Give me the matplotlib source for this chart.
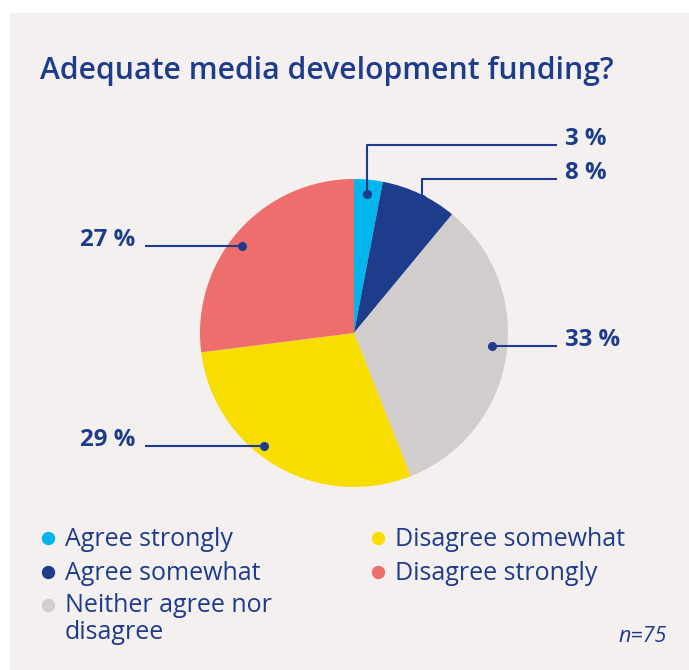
import numpy as np
import matplotlib.pyplot as plt
from matplotlib.patches import Rectangle

# survey answers, share of respondents in %
categories = ["Agree strongly", "Agree somewhat", "Neither agree nor\ndisagree",
              "Disagree somewhat", "Disagree strongly"]
shares = [3, 8, 33, 29, 27]
colors = ["#00b6ec", "#1e3c8c", "#d1cdcc", "#f7dd00", "#ee6e6d"]
n_resp = 75

W, H = 689, 670
navy = "#1e3c8c"
plt.rcParams['font.family'] = ['Open Sans', 'DejaVu Sans']

fig = plt.figure(figsize=(W / 100, H / 100), dpi=100)
ax = fig.add_axes([0, 0, 1, 1])

def py(y):
    # pixel row (from top) -> data y
    return H - y

cx, cy, R = 354, py(333), 154
wedges, _ = ax.pie(shares, colors=colors, startangle=90, counterclock=False,
                   center=(cx, cy), radius=R, wedgeprops=dict(linewidth=0))

ax.set_xlim(0, W)
ax.set_ylim(0, H)
ax.set_aspect('auto')
ax.axis('off')

# background panel
ax.add_patch(Rectangle((10, 0), W - 10, py(13), color="#f4f0ef", zorder=-10))

ax.text(40, py(71), "Adequate media development funding?", color=navy,
        fontsize=21.7, fontweight='semibold', va='center', ha='left')

def wedge_mid(i):
    start = 90 - sum(shares[:i]) * 3.6
    return start - shares[i] * 1.8

# leader lines: (wedge, dot radius, dot angle, elbow y, label side)
leaders = [
    (0, 140, wedge_mid(0), 145, 'right'),
    (1, 150, 63, 179, 'right'),
    (2, 139, -5.4, None, 'right'),
    (3, 144, 231.4, None, 'left'),
    (4, 141.5, 142, None, 'left'),
]
for i, r, ang, elbow, side in leaders:
    dx = cx + r * np.cos(np.radians(ang))
    dy = cy + r * np.sin(np.radians(ang))
    ax.plot(dx, dy, 'o', color=navy, ms=5.5, zorder=5)
    if elbow is not None:
        xs, ys = [dx, dx, 557], [dy, py(elbow), py(elbow)]
        ly = py(elbow)
    elif side == 'right':
        xs, ys = [dx, 557], [dy, dy]
        ly = dy
    else:
        xs, ys = [dx, 145], [dy, dy]
        ly = dy
    ax.plot(xs, ys, color=navy, lw=1.5, zorder=4, solid_capstyle='butt')
    lab = f"{shares[i]} %"
    if side == 'right':
        ax.text(565, ly + 6, lab, color=navy, fontsize=17.3, fontweight='bold',
                ha='left', va='center')
    else:
        ax.text(135, ly + 6, lab, color=navy, fontsize=17.3, fontweight='bold',
                ha='right', va='center')

# legend
legend_pos = [(48, 538), (48, 572), (48, 605), (378, 538), (378, 572)]
for (lx, ly), name, c in zip(legend_pos, categories, colors):
    ax.plot(lx, py(ly), 'o', color=c, ms=8.6)
    if '\n' in name:
        ax.text(lx + 17, py(ly) + 12, name, color=navy, fontsize=18, ha='left', va='top',
                linespacing=1.08)
    else:
        ax.text(lx + 17, py(ly) - 1, name, color=navy, fontsize=18, ha='left', va='center')

ax.text(667, py(637), f"n={n_resp}", color=navy, fontsize=15.5, style='italic',
        ha='right', va='center')

fig.savefig("out.png", dpi=100)
